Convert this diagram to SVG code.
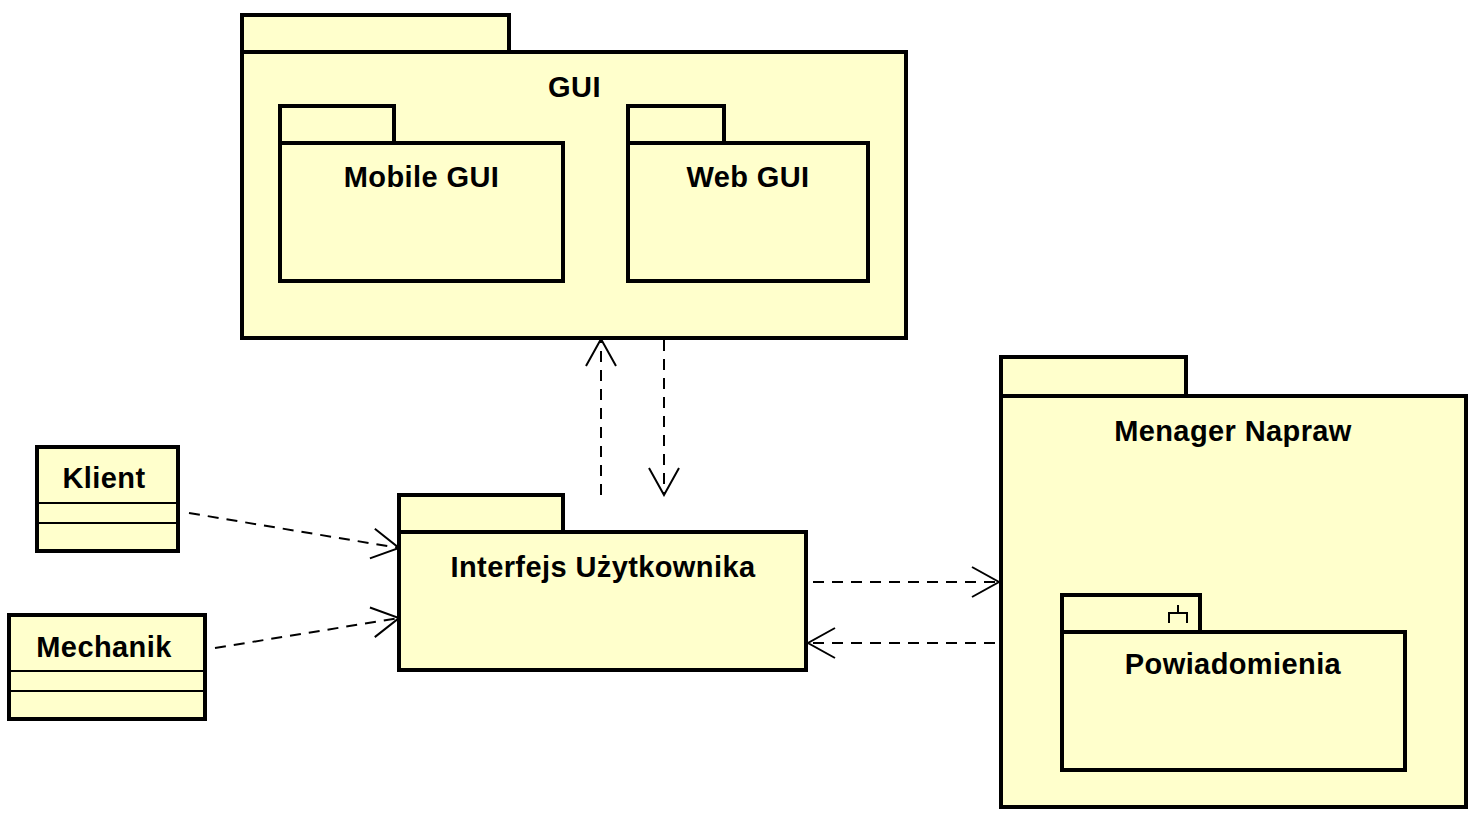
<svg xmlns="http://www.w3.org/2000/svg" width="1480" height="825" viewBox="0 0 1480 825">
<defs>
<style>
.box{fill:#ffffcc;stroke:#000;stroke-width:4}
.thin{fill:none;stroke:#000;stroke-width:2}
.lbl{font-family:"Liberation Sans",Arial,sans-serif;font-weight:bold;font-size:29px;letter-spacing:0.4px;fill:#000;text-anchor:middle}
.dep{fill:none;stroke:#000;stroke-width:2;stroke-dasharray:11 8}
</style>
<marker id="open" viewBox="0 0 30 34" refX="28" refY="17" markerWidth="30" markerHeight="34" markerUnits="userSpaceOnUse" orient="auto">
<path d="M1,2 L28,17 L1,32" fill="none" stroke="#000" stroke-width="2"/>
</marker>
</defs>
<rect width="1480" height="825" fill="#fff"/>
<g id="gui">
<rect class="box" x="242" y="15" width="267" height="37"/>
<rect class="box" x="242" y="52" width="664" height="286"/>
<text class="lbl" x="574.5" y="97">GUI</text>
</g>
<g id="mobile-gui">
<rect class="box" x="280" y="106" width="114" height="37"/>
<rect class="box" x="280" y="143" width="283" height="138"/>
<text class="lbl" x="421.5" y="187">Mobile GUI</text>
</g>
<g id="web-gui">
<rect class="box" x="628" y="106" width="96" height="37"/>
<rect class="box" x="628" y="143" width="240" height="138"/>
<text class="lbl" x="748" y="187">Web GUI</text>
</g>
<g id="interfejs">
<rect class="box" x="399" y="495" width="164" height="37"/>
<rect class="box" x="399" y="532" width="407" height="138"/>
<text class="lbl" x="603" y="577">Interfejs Użytkownika</text>
</g>
<g id="menager">
<rect class="box" x="1001" y="357" width="185" height="39"/>
<rect class="box" x="1001" y="396" width="465" height="411"/>
<text class="lbl" x="1233" y="441">Menager Napraw</text>
</g>
<g id="powiadomienia">
<rect class="box" x="1062" y="595" width="138" height="37"/>
<rect class="box" x="1062" y="632" width="343" height="138"/>
<path class="thin" d="M1178,605 V613 M1169,623 V613 H1187 V623"/>
<text class="lbl" x="1233" y="674">Powiadomienia</text>
</g>
<g id="klient">
<rect class="box" x="37" y="447" width="141" height="104"/>
<path class="thin" d="M37,503 H178 M37,523 H178"/>
<text class="lbl" x="104" y="488">Klient</text>
</g>
<g id="mechanik">
<rect class="box" x="9" y="615" width="196" height="104"/>
<path class="thin" d="M9,671 H205 M9,691 H205"/>
<text class="lbl" x="104" y="657">Mechanik</text>
</g>
<g id="connectors">
<path class="dep" d="M189,513 L399,548" marker-end="url(#open)"/>
<path class="dep" d="M215,648 L399,618" marker-end="url(#open)"/>
<path class="dep" d="M601,495 L601,339" marker-end="url(#open)"/>
<path class="dep" d="M664,340 L664,495" marker-end="url(#open)"/>
<path class="dep" d="M813,582 L999,582" marker-end="url(#open)"/>
<path class="dep" d="M995,643 L808,643" marker-end="url(#open)"/>
</g>
</svg>
